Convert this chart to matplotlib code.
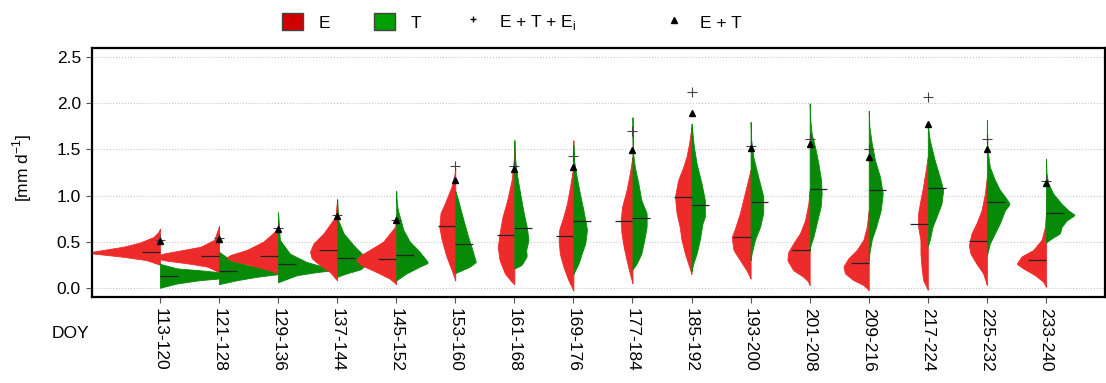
import numpy as np
import matplotlib
matplotlib.use('Agg')
import matplotlib.pyplot as plt
from matplotlib.patches import Patch
from matplotlib.lines import Line2D

plt.rcParams['font.family'] = ['Liberation Sans', 'DejaVu Sans']
plt.rcParams['font.size'] = 12.5

# DOY-Perioden
periods = ['113-120', '121-128', '129-136', '137-144', '145-152', '153-160',
           '161-168', '169-176', '177-184', '185-192', '193-200', '201-208',
           '209-216', '217-224', '225-232', '233-240']

# Profile der Halb-Violinen: Niveaus [mm d-1] und halbe Breiten
e_levels = [
    [0.25, 0.30, 0.336, 0.38, 0.445, 0.49, 0.55, 0.60, 0.64],
    [0.17, 0.23, 0.26, 0.30, 0.335, 0.37, 0.445, 0.52, 0.67],
    [0.155, 0.19, 0.245, 0.30, 0.33, 0.355, 0.41, 0.50, 0.64],
    [0.08, 0.17, 0.245, 0.32, 0.39, 0.48, 0.59, 0.77, 0.96],
    [0.04, 0.10, 0.17, 0.245, 0.30, 0.35, 0.41, 0.5, 0.66, 0.72],
    [0.08, 0.19, 0.34, 0.52, 0.66, 0.81, 0.91, 1.1, 1.24, 1.3],
    [0.04, 0.065, 0.155, 0.30, 0.44, 0.59, 0.77, 0.95, 1.17, 1.38, 1.6],
    [-0.03, 0.083, 0.23, 0.37, 0.52, 0.63, 0.77, 0.91, 1.1, 1.28, 1.6],
    [0.05, 0.155, 0.30, 0.44, 0.59, 0.73, 0.88, 1.06, 1.24, 1.42],
    [0.15, 0.26, 0.37, 0.52, 0.66, 0.81, 0.99, 1.17, 1.31, 1.42, 1.57, 1.75],
    [0.1, 0.19, 0.30, 0.41, 0.55, 0.64, 0.81, 1.02, 1.28],
    [0.03, 0.065, 0.12, 0.19, 0.30, 0.39, 0.48, 0.59, 0.73, 0.91, 1.06],
    [-0.025, 0.03, 0.083, 0.155, 0.23, 0.32, 0.41, 0.52, 0.66, 0.84],
    [-0.02, 0.083, 0.23, 0.37, 0.52, 0.66, 0.81, 0.95, 1.1, 1.28, 1.42],
    [0.03, 0.155, 0.26, 0.37, 0.46, 0.59, 0.70, 0.84, 1.02, 1.2],
    [0.01, 0.065, 0.137, 0.21, 0.26, 0.34, 0.41, 0.52, 0.66, 0.81],
]
e_widths = [
    [0, 0.23, 0.62, 1.25, 0.62, 0.34, 0.11, 0.03, 0],
    [0, 0.2, 0.48, 0.95, 1.1, 0.95, 0.31, 0.08, 0],
    [0, 0.14, 0.47, 0.81, 0.87, 0.81, 0.53, 0.25, 0],
    [0, 0.12, 0.29, 0.43, 0.46, 0.40, 0.23, 0.03, 0],
    [0, 0.11, 0.33, 0.59, 0.68, 0.61, 0.45, 0.22, 0.02, 0],
    [0, 0.06, 0.15, 0.23, 0.27, 0.25, 0.18, 0.06, 0.01, 0],
    [0, 0.045, 0.16, 0.25, 0.28, 0.25, 0.2, 0.12, 0.045, 0.01, 0],
    [0, 0.085, 0.17, 0.23, 0.25, 0.24, 0.17, 0.11, 0.056, 0.01, 0],
    [0, 0.045, 0.1, 0.147, 0.186, 0.2, 0.175, 0.1, 0.045, 0],
    [0, 0.056, 0.11, 0.17, 0.2, 0.254, 0.28, 0.226, 0.14, 0.085, 0.04, 0],
    [0, 0.068, 0.18, 0.29, 0.32, 0.265, 0.18, 0.1, 0],
    [0, 0.023, 0.107, 0.277, 0.378, 0.361, 0.277, 0.164, 0.079, 0.023, 0],
    [0, 0.09, 0.26, 0.401, 0.429, 0.344, 0.203, 0.09, 0.034, 0],
    [0, 0.079, 0.107, 0.124, 0.124, 0.164, 0.164, 0.124, 0.079, 0.034, 0],
    [0, 0.062, 0.175, 0.277, 0.305, 0.26, 0.175, 0.09, 0.034, 0],
    [0, 0.045, 0.186, 0.384, 0.497, 0.412, 0.214, 0.073, 0.017, 0],
]
t_levels = [
    [0.0, 0.047, 0.083, 0.10, 0.135, 0.17, 0.19, 0.21, 0.26],
    [0.04, 0.083, 0.12, 0.148, 0.175, 0.21, 0.245, 0.30, 0.39],
    [0.06, 0.137, 0.17, 0.19, 0.21, 0.23, 0.28, 0.37, 0.52, 0.82],
    [0.12, 0.16, 0.2, 0.26, 0.33, 0.37, 0.46, 0.59, 0.73, 0.96],
    [0.08, 0.155, 0.23, 0.27, 0.30, 0.41, 0.5, 0.63, 0.84, 0.91, 1.05],
    [0.16, 0.19, 0.23, 0.28, 0.32, 0.43, 0.55, 0.73, 0.95, 1.05],
    [0.21, 0.245, 0.34, 0.41, 0.52, 0.66, 0.84, 1.02, 1.24, 1.42, 1.6],
    [0.15, 0.19, 0.26, 0.37, 0.48, 0.63, 0.84, 1.02, 1.2, 1.38, 1.55],
    [0.2, 0.26, 0.37, 0.52, 0.66, 0.81, 0.95, 1.13, 1.31, 1.46, 1.85],
    [0.18, 0.26, 0.37, 0.52, 0.70, 0.77, 0.95, 1.13, 1.35, 1.53, 1.78],
    [0.3, 0.37, 0.52, 0.66, 0.81, 0.99, 1.2, 1.42, 1.6, 1.8],
    [0.4, 0.44, 0.55, 0.70, 0.88, 1.02, 1.17, 1.35, 1.53, 1.67, 1.82, 2.0],
    [0.3, 0.37, 0.52, 0.66, 0.84, 1.02, 1.2, 1.38, 1.57, 1.75, 1.92],
    [0.45, 0.52, 0.66, 0.77, 0.91, 1.06, 1.2, 1.38, 1.6, 1.76],
    [0.35, 0.48, 0.59, 0.70, 0.84, 0.91, 0.99, 1.06, 1.17, 1.31, 1.5, 1.82],
    [0.49, 0.535, 0.59, 0.66, 0.73, 0.79, 0.84, 0.91, 1.02, 1.13, 1.24, 1.4],
]
t_widths = [
    [0, 0.29, 0.68, 0.99, 1.05, 0.99, 0.68, 0.29, 0],
    [0, 0.31, 0.65, 1.0, 1.05, 0.82, 0.48, 0.2, 0],
    [0, 0.32, 0.65, 0.93, 0.99, 0.76, 0.48, 0.2, 0.03, 0],
    [0, 0.18, 0.4, 0.5, 0.45, 0.42, 0.28, 0.11, 0.02, 0],
    [0, 0.17, 0.40, 0.54, 0.51, 0.37, 0.23, 0.12, 0.03, 0.01, 0],
    [0, 0.11, 0.25, 0.35, 0.33, 0.28, 0.22, 0.14, 0.05, 0],
    [0, 0.12, 0.21, 0.2, 0.24, 0.21, 0.15, 0.1, 0.04, 0.01, 0],
    [0, 0.03, 0.085, 0.14, 0.2, 0.23, 0.17, 0.11, 0.056, 0.01, 0],
    [0, 0.07, 0.15, 0.2, 0.24, 0.24, 0.15, 0.1, 0.04, 0.01, 0],
    [0, 0.028, 0.085, 0.14, 0.186, 0.226, 0.226, 0.17, 0.085, 0.04, 0],
    [0, 0.017, 0.073, 0.16, 0.214, 0.214, 0.13, 0.045, 0.01, 0],
    [0, 0.006, 0.062, 0.118, 0.186, 0.203, 0.192, 0.147, 0.09, 0.034, 0.01, 0],
    [0, 0.01, 0.05, 0.124, 0.203, 0.237, 0.192, 0.107, 0.05, 0.01, 0],
    [0, 0.034, 0.079, 0.147, 0.231, 0.26, 0.203, 0.118, 0.034, 0],
    [0, 0.05, 0.135, 0.22, 0.305, 0.389, 0.305, 0.22, 0.135, 0.05, 0.01, 0],
    [0, 0.096, 0.237, 0.265, 0.35, 0.491, 0.378, 0.265, 0.124, 0.04, 0.01, 0],
]

# Mediane
e_median = [0.383, 0.34, 0.34, 0.405, 0.31, 0.67, 0.57, 0.56, 0.72, 0.98,
            0.55, 0.405, 0.27, 0.69, 0.51, 0.30]
t_median = [0.127, 0.18, 0.26, 0.32, 0.36, 0.47, 0.65, 0.72, 0.76, 0.90,
            0.93, 1.07, 1.06, 1.08, 0.93, 0.81]

# Summen
sum_et_ei = [0.52, 0.54, 0.645, 0.79, 0.74, 1.32, 1.32, 1.43, 1.70, 2.12,
             1.54, 1.61, 1.50, 2.07, 1.61, 1.16]
sum_et = [0.51, 0.53, 0.64, 0.78, 0.73, 1.17, 1.29, 1.31, 1.49, 1.89,
          1.52, 1.56, 1.42, 1.78, 1.51, 1.14]

red = '#ee2b2b'
green = '#078a07'


def smooth_profile(levels, widths):
    y = np.linspace(levels[0], levels[-1], 300)
    w = np.interp(y, levels, widths)
    k = np.hanning(11)
    k = k / k.sum()
    w = np.convolve(np.pad(w, 5), k, mode='same')[5:-5]
    return y, w


fig = plt.figure(figsize=(11.06, 3.83), dpi=100)
ax = fig.add_axes([92 / 1106, 86 / 383, 1013 / 1106, 249 / 383])

for i in range(len(periods)):
    y, w = smooth_profile(e_levels[i], e_widths[i])
    ax.fill_betweenx(y, i - w, i, color=red, lw=0.6, zorder=2)
    y, w = smooth_profile(t_levels[i], t_widths[i])
    ax.fill_betweenx(y, i, i + w, color=green, lw=0.6, zorder=2)

x = np.arange(len(periods))
ax.hlines(e_median, x - 0.3, x, color='#222222', lw=0.9, zorder=3)
ax.hlines(t_median, x, x + 0.3, color='#222222', lw=0.9, zorder=3)
ax.plot(x, sum_et_ei, ls='none', marker='+', ms=7, mew=0.8, color='#444444', zorder=4)
ax.plot(x, sum_et, ls='none', marker='^', ms=4.5, color='black', zorder=4)

ax.set_xlim(-1.15, 16.0)
ax.set_ylim(-0.10, 2.60)
ax.set_yticks([0.0, 0.5, 1.0, 1.5, 2.0, 2.5])
ax.set_yticklabels(['0.0', '0.5', '1.0', '1.5', '2.0', '2.5'])
ax.set_xticks(x)
ax.set_xticklabels(periods, rotation=270, va='top', ha='center')
ax.grid(axis='y', ls=':', color='#c8c8c8', lw=0.8, zorder=0)
ax.set_axisbelow(True)
for s in ax.spines.values():
    s.set_linewidth(1.6)
ax.tick_params(length=4, width=0.8, color='#555555', pad=4)

ax.set_ylabel('[mm d$^{\\mathregular{-1}}$]')
ax.yaxis.set_label_coords(-0.057, 0.52)
fig.text(70 / 1106, 1 - 333 / 383, 'DOY', ha='center', va='center')

# Legende
entries = [
    (Patch(facecolor='#d00000', edgecolor='#444444'), 'E', 282),
    (Patch(facecolor='#00a000', edgecolor='#444444'), 'T', 374),
    (Line2D([], [], ls='none', marker='+', ms=5, color='black'), 'E + T + E$_\\mathregular{i}$', 463),
    (Line2D([], [], ls='none', marker='^', ms=5, color='black'), 'E + T', 664),
]
for h, lab, px in entries:
    fig.legend([h], [lab], loc='center left', bbox_to_anchor=(px / 1106, 1 - 22 / 383),
               frameon=False, borderpad=0, borderaxespad=0, handlelength=1.2,
               handleheight=1.1, handletextpad=0.9)

fig.savefig('out.png', dpi=100)
